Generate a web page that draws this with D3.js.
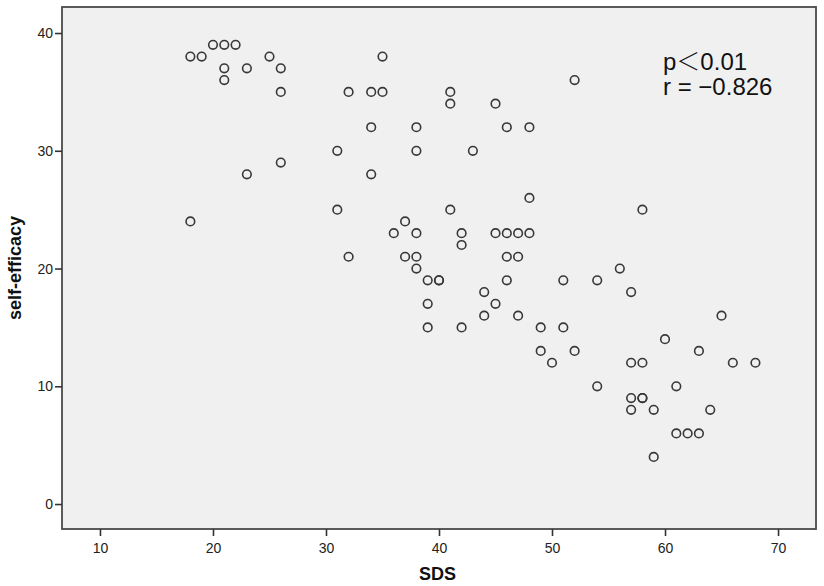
<!DOCTYPE html>
<meta charset="utf-8">
<script src="https://d3js.org/d3.v7.min.js"></script>
<head>
	<title>SDS vs self-efficacy</title>
	<style>
		body { margin: 0; background: #fff; }
		svg text { font-family: Arial, "Liberation Sans", sans-serif; }
	</style>
</head>
<body>
	<div id="scatter"></div>
	<script>
		// values
		var sds = [18, 19, 20, 21, 22, 21, 23, 26, 25, 21, 26, 23, 26, 18,
			35, 32, 34, 35, 34, 31, 34, 31, 32, 37, 36, 38, 37, 38, 38, 38, 38,
			52, 41, 41, 45, 46, 48, 43, 48, 41, 58, 42, 45, 46, 47, 48, 42, 46, 47, 56,
			39, 40, 40, 46, 51, 54, 44, 57, 39, 45, 44, 47, 65, 39, 42, 49, 51, 60,
			49, 52, 63, 50, 57, 58, 66, 68, 54, 61, 57, 58, 58, 57, 59, 64, 61, 62, 63, 59];
		var selfEfficacy = [38, 38, 39, 39, 39, 37, 37, 37, 38, 36, 35, 28, 29, 24,
			38, 35, 35, 35, 32, 30, 28, 25, 21, 24, 23, 23, 21, 21, 20, 32, 30,
			36, 35, 34, 34, 32, 32, 30, 26, 25, 25, 23, 23, 23, 23, 23, 22, 21, 21, 20,
			19, 19, 19, 19, 19, 19, 18, 18, 17, 17, 16, 16, 16, 15, 15, 15, 15, 14,
			13, 13, 13, 12, 12, 12, 12, 12, 10, 10, 9, 9, 9, 8, 8, 8, 6, 6, 6, 4];
		var xTicks = [10, 20, 30, 40, 50, 60, 70];
		var yTicks = [0, 10, 20, 30, 40];
		// each note line is split in parts so the full-width "＜" can use a CJK font
		var notes = [["p", "\uFF1C", "0.01"], ["r = \u22120.826"]];

		var width = 824, height = 586;
		var plot = {left: 62, top: 7, right: 816, bottom: 529};

		var svg = d3.select("#scatter")
			.append("svg")
			.attr("width", width)
			.attr("height", height);

		var x = d3.scaleLinear()
			.domain([6.64, 73.36])
			.range([plot.left, plot.right]);

		var y = d3.scaleLinear()
			.domain([-2.12, 42.21])
			.range([plot.bottom, plot.top]);

		// grey plot area with frame
		svg.append("rect")
			.attr("x", plot.left)
			.attr("y", plot.top)
			.attr("width", plot.right - plot.left)
			.attr("height", plot.bottom - plot.top)
			.style("fill", "#f0f0f0")
			.style("stroke", "#4a4a4a")
			.style("stroke-width", 1.8);

		// axes
		var xAxis = svg.append("g")
			.attr("transform", "translate(0," + plot.bottom + ")")
			.call(d3.axisBottom(x).tickValues(xTicks).tickSize(7).tickSizeOuter(0));
		var yAxis = svg.append("g")
			.attr("transform", "translate(" + plot.left + ",0)")
			.call(d3.axisLeft(y).tickValues(yTicks).tickSize(7).tickSizeOuter(0));

		[xAxis, yAxis].forEach(function(g) {
			g.select(".domain").remove();
			g.selectAll(".tick line").style("stroke", "#333").style("stroke-width", 1.6);
			g.selectAll(".tick text")
				.style("font-size", "14px")
				.style("fill", "#222")
				.style("font-family", "Arial, 'Liberation Sans', sans-serif");
		});
		xAxis.selectAll(".tick text").attr("dy", "1.0em");
		yAxis.selectAll(".tick text").attr("x", -9);

		// axis titles
		svg.append("text")
			.attr("x", 419)
			.attr("y", 580)
			.style("font-size", "18px")
			.style("font-weight", "bold")
			.style("fill", "#111")
			.text("SDS");

		svg.append("text")
			.attr("transform", "translate(21,268) rotate(-90)")
			.attr("text-anchor", "middle")
			.style("font-size", "18px")
			.style("font-weight", "bold")
			.style("fill", "#111")
			.text("self-efficacy");

		// points
		svg.append("g")
			.selectAll("circle")
			.data(d3.range(sds.length))
			.enter()
			.append("circle")
			.attr("cx", function(i) { return x(sds[i]); })
			.attr("cy", function(i) { return y(selfEfficacy[i]); })
			.attr("r", 4.3)
			.style("fill", "none")
			.style("stroke", "#383838")
			.style("stroke-width", 1.6);

		// correlation note
		var noteLines = svg.append("g")
			.selectAll("text")
			.data(notes)
			.enter()
			.append("text")
			.attr("x", 663)
			.attr("y", function(d, i) { return 70 + i * 25; })
			.style("font-size", "24px")
			.style("fill", "#111");

		noteLines.selectAll("tspan")
			.data(function(d) { return d; })
			.enter()
			.append("tspan")
			.style("font-family", function(d) {
				return d === "\uFF1C" ? "'Noto Sans CJK SC', sans-serif" : "Arial, 'Liberation Sans', sans-serif";
			})
			.style("font-weight", function(d) { return d === "\uFF1C" ? 300 : 400; })
			.text(function(d) { return d; });
	</script>
</body>
</html>
